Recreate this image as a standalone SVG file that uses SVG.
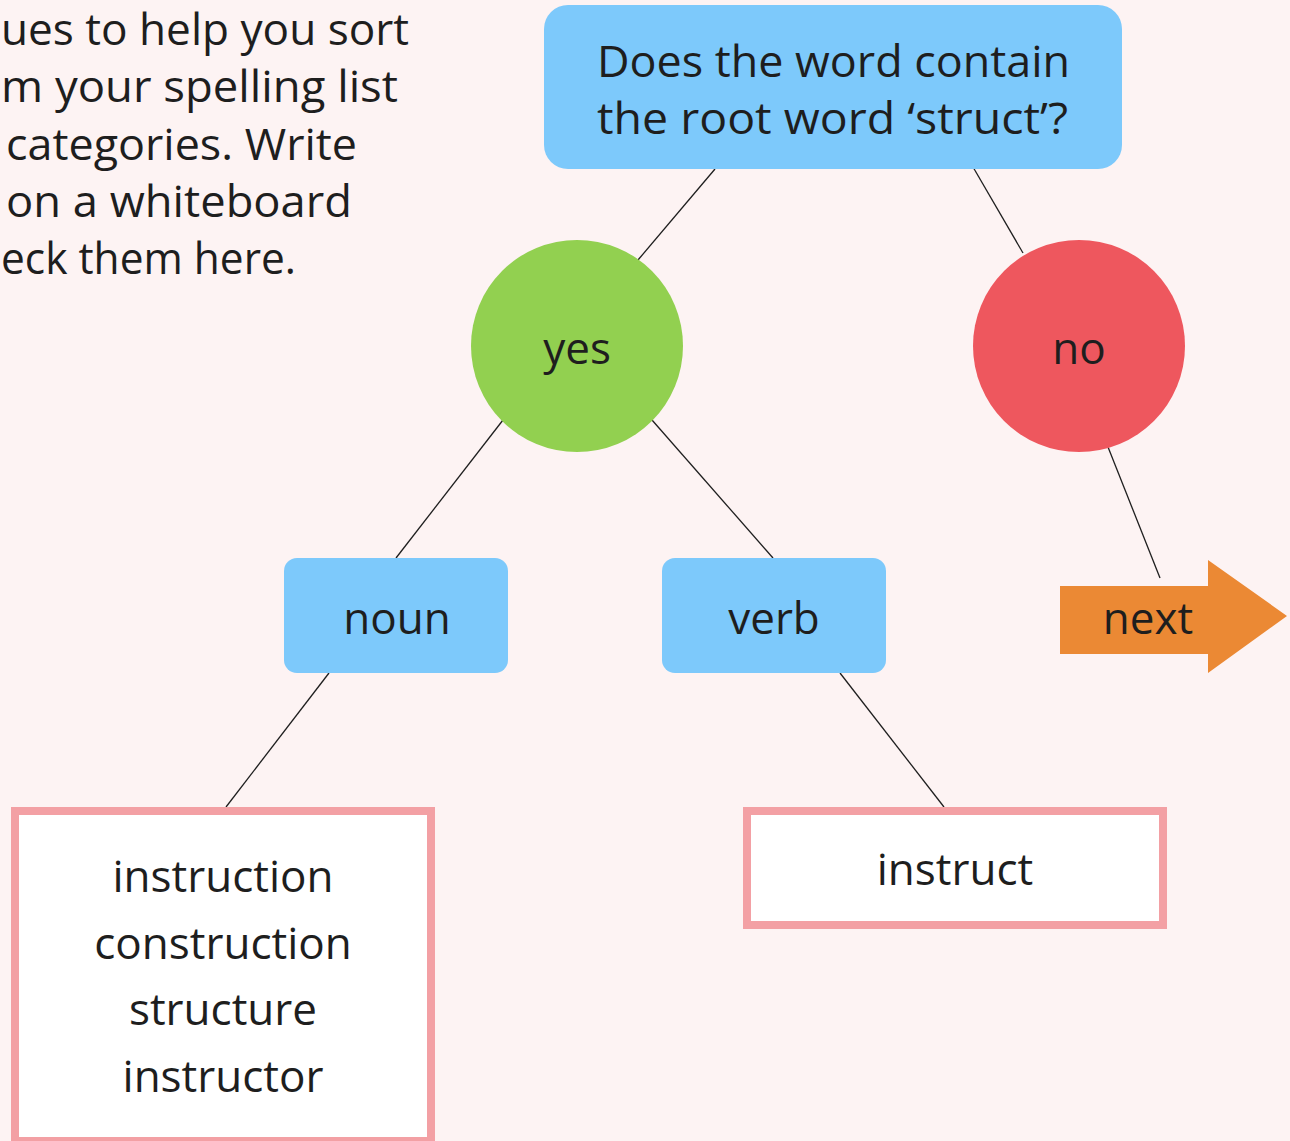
<svg xmlns="http://www.w3.org/2000/svg" width="1290" height="1141" viewBox="0 0 1290 1141">
<style>
text{font-family:"Open Sans","Noto Sans","Liberation Sans",sans-serif;fill:#1e1e1e;font-size:44px}
.c{text-anchor:middle}
.blue{fill:#7dc9fb}
.word{fill:#ffffff;stroke:#f3a0a4;stroke-width:8}
.conn line{stroke:#1e1e1e;stroke-width:1.3}
</style>
<rect width="1290" height="1141" fill="#fdf3f3"/>
<g id="intro">
<text x="1" y="45" textLength="408" lengthAdjust="spacingAndGlyphs">ues to help you sort</text>
<text x="1" y="102" textLength="397" lengthAdjust="spacingAndGlyphs">m your spelling list</text>
<text x="6" y="160" textLength="351" lengthAdjust="spacingAndGlyphs">categories. Write</text>
<text x="6" y="217" textLength="346" lengthAdjust="spacingAndGlyphs">on a whiteboard</text>
<text x="1" y="274" textLength="295" lengthAdjust="spacingAndGlyphs">eck them here.</text>
</g>
<g class="conn" id="connectors">
<line x1="715" y1="169" x2="638" y2="260"/>
<line x1="973" y1="167" x2="1023" y2="253"/>
<line x1="503" y1="420" x2="396" y2="558"/>
<line x1="652" y1="420" x2="773" y2="558"/>
<line x1="1108" y1="447" x2="1160" y2="578"/>
<line x1="329" y1="673" x2="226" y2="807"/>
<line x1="840" y1="673" x2="944" y2="807"/>
</g>
<g id="question">
<rect class="blue" x="544" y="5" width="578" height="164" rx="24"/>
<text x="597" y="77" textLength="473" lengthAdjust="spacingAndGlyphs">Does the word contain</text>
<text x="597" y="134" textLength="471" lengthAdjust="spacingAndGlyphs">the root word ‘struct’?</text>
</g>
<g id="yes">
<circle cx="577" cy="346" r="106" fill="#92d050"/>
<text class="c" x="577" y="364">yes</text>
</g>
<g id="no">
<circle cx="1079" cy="346" r="106" fill="#ee575e"/>
<text class="c" x="1079" y="364">no</text>
</g>
<g id="noun">
<rect class="blue" x="284" y="558" width="224" height="115" rx="13"/>
<text class="c" x="397" y="634">noun</text>
</g>
<g id="verb">
<rect class="blue" x="662" y="558" width="224" height="115" rx="13"/>
<text class="c" x="774" y="634">verb</text>
</g>
<g id="next">
<polygon points="1060,586 1208,586 1208,560 1287,616 1208,673 1208,654 1060,654" fill="#eb8934"/>
<text class="c" x="1148" y="634">next</text>
</g>
<g id="nouns">
<rect class="word" x="15" y="811" width="416" height="330"/>
<text class="c" x="223" y="892">instruction</text>
<text class="c" x="223" y="959">construction</text>
<text class="c" x="223" y="1025">structure</text>
<text class="c" x="223" y="1092">instructor</text>
</g>
<g id="verbs">
<rect class="word" x="747" y="811" width="416" height="114"/>
<text class="c" x="955" y="885">instruct</text>
</g>
</svg>
